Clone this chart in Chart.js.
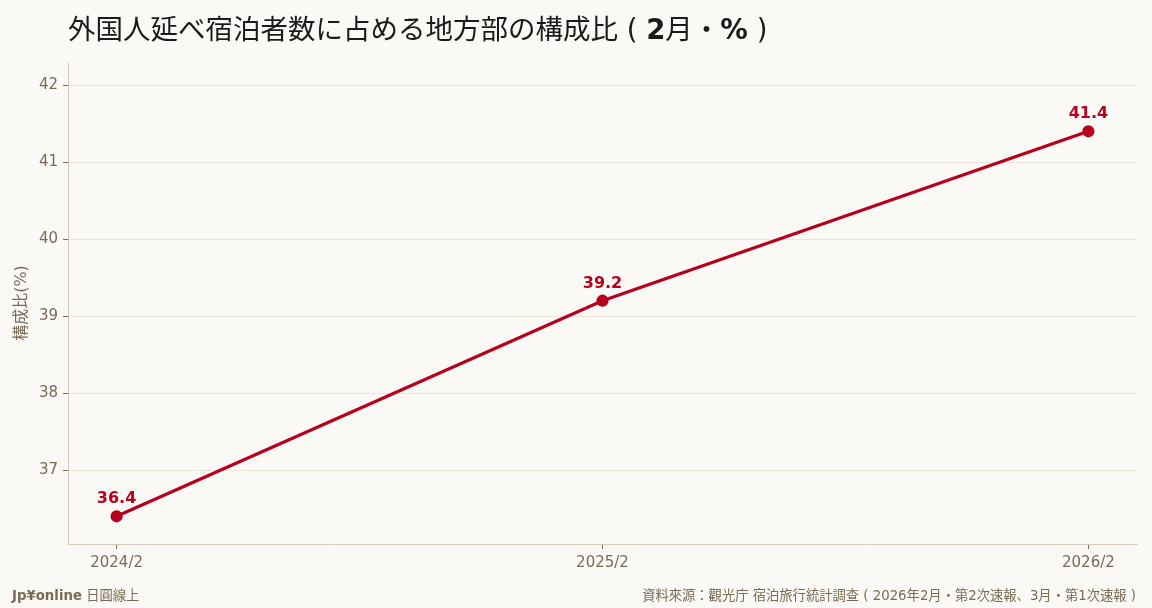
<!DOCTYPE html>
<html>
<head>
<meta charset="utf-8">
<script src="https://cdn.jsdelivr.net/npm/chart.js@4"></script>
<style>
  html, body { margin:0; padding:0; background:#faf9f6; width:1152px; height:608px; overflow:hidden; }
  #wrap { position:absolute; left:0; top:0; width:1152px; height:608px; }
  #title { position:absolute; left:68px; top:7px; font-family:"DejaVu Sans","Noto Sans CJK JP",sans-serif; font-size:27.5px; color:#1a1a1a; white-space:nowrap; }
  #title b { font-weight:700; }
  .foot { position:absolute; top:585px; font-family:"DejaVu Sans","Noto Sans CJK JP",sans-serif; font-size:13.3px; color:#7a6a55; white-space:nowrap; }
  #foot-l { left:12px; }
  #foot-r { right:16px; }
</style>
</head>
<body>
<div id="wrap"><canvas id="chart" width="1152" height="608"></canvas></div>
<div id="title">外国人延べ宿泊者数に占める地方部の構成比 ( <b>2</b>月・<b>%</b> )</div>
<div class="foot" id="foot-l"><b>Jp¥online</b> 日圓線上</div>
<div class="foot" id="foot-r">資料來源：觀光庁 宿泊旅行統計調查 ( 2026年2月・第2次速報、3月・第1次速報 )</div>
<script>
// data
const labels = ['2024/2', '2025/2', '2026/2'];
const values = [36.4, 39.2, 41.4];
const yTicks = [37, 38, 39, 40, 41, 42];

const RED = '#b5001e';
const TEXT = '#7a6a55';

// value labels above each point
const pointLabels = {
  id: 'pointLabels',
  afterDatasetsDraw(chart){
    const c = chart.ctx;
    const meta = chart.getDatasetMeta(0);
    c.save();
    c.font = 'bold 16px "DejaVu Sans"';
    c.fillStyle = RED;
    c.textAlign = 'center';
    c.textBaseline = 'middle';
    meta.data.forEach((pt, i) => {
      c.fillText(values[i].toFixed(1), pt.x, pt.y - 17);
    });
    c.restore();
  }
};

const ctx = document.getElementById('chart').getContext('2d');
new Chart(ctx, {
  type: 'line',
  data: {
    datasets: [{
      data: values.map((v, i) => ({x: i, y: v})),
      borderColor: RED,
      backgroundColor: RED,
      borderWidth: 3.2,
      pointRadius: 4.5,
      pointHoverRadius: 4.5,
      tension: 0
    }]
  },
  options: {
    responsive: false,
    animation: false,
    layout: { padding: { top: 62, bottom: 34, left: 0, right: 15 } },
    plugins: { legend: { display: false }, tooltip: { enabled: false } },
    scales: {
      x: {
        type: 'linear',
        min: -0.1, max: 2.1,
        afterFit(s){ s.height = 30; },
        afterBuildTicks(s){ s.ticks = labels.map((l, i) => ({value: i})); },
        ticks: {
          callback: v => labels[v],
          color: TEXT,
          font: { family: 'DejaVu Sans', size: 15 },
          padding: 5,
          maxRotation: 0
        },
        grid: { drawOnChartArea: false, tickLength: 5, tickColor: TEXT },
        border: { color: '#d6cbb8', width: 1 }
      },
      y: {
        min: 36.04, max: 42.3,
        afterFit(s){ s.width = 68; },
        afterBuildTicks(s){ s.ticks = yTicks.map(v => ({value: v})); },
        ticks: {
          color: TEXT,
          font: { family: 'DejaVu Sans', size: 15 },
          padding: 5
        },
        grid: { color: '#ebe5d9', tickLength: 5, tickColor: TEXT },
        border: { color: '#d6cbb8', width: 1 },
        title: {
          display: true,
          text: '構成比(%)',
          color: TEXT,
          font: { family: 'DejaVu Sans, Noto Sans CJK JP', size: 16 },
          padding: { top: 12, bottom: 0 }
        }
      }
    }
  },
  plugins: [pointLabels]
});
</script>
</body>
</html>
